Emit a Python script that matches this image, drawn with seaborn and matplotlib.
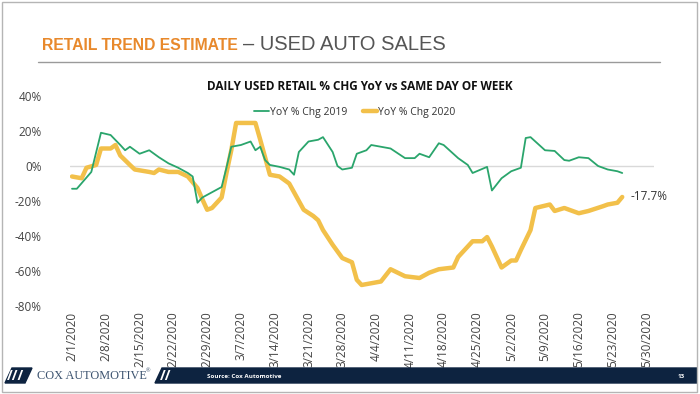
import pandas as pd
import seaborn as sns
import matplotlib.pyplot as plt
from matplotlib.patches import Rectangle, Polygon

# Data (days after 2/1/2020, % change)
days_2019 = [0, 1, 4, 6, 8, 10, 11, 12, 14, 16, 18, 20, 22, 24, 25, 26, 27, 29, 31,
             32, 33, 35, 37, 38, 39, 40, 41, 43, 45, 46, 47, 49, 51, 52, 54, 55, 56,
             58, 59, 61, 62, 66, 69, 71, 72, 74, 76, 77, 80, 82, 83, 86, 87, 89, 91,
             93, 94, 95, 98, 100, 102, 103, 105, 107, 109, 111, 113, 114]
chg_2019 = [-13, -13, -3.4, 19, 17.7, 12, 9, 11, 7, 9, 5, 1.5, -1, -4, -6, -21, -18, -15, -12,
            -1, 11, 12, 14, 9, 11, 3.4, 0.6, -0.5, -2, -5, 8, 14, 15, 16.5, 8, 0, -2,
            -1, 7, 9, 12, 10, 4.5, 4.5, 7, 5, 13, 12, 4.5, 0.6, -4, -0.5, -14, -7, -3,
            -1, 16, 16.5, 9, 8.6, 3.4, 3, 5, 4.5, 0, -2, -3, -4]

days_2020 = [0, 2, 3, 5, 6, 8, 9, 10, 12, 13, 16, 17, 18, 20, 22, 24, 26, 27, 28, 29,
             31, 32, 33, 34, 36, 38, 39, 40, 41, 43, 45, 46, 48, 50, 51, 52, 54, 56,
             58, 59, 60, 62, 64, 66, 69, 72, 74, 76, 79, 80, 83, 85, 86, 87, 89, 91,
             92, 93, 95, 96, 99, 100, 102, 105, 107, 110, 111, 113, 114]
chg_2020 = [-6, -7, -1, 0.6, 10, 10, 12, 6, 0.6, -2, -3.4, -4, -2, -3.4, -3.4, -6, -12.6, -19, -25, -24,
            -18, -4, 9, 24.6, 24.6, 24.6, 15, 5, -5, -6, -10, -15, -25, -28.6, -31, -36.6, -45, -52.6,
            -55, -65, -68, -67, -66, -59, -63, -64, -61, -59, -58, -52, -43, -43, -40.6, -46, -58, -54,
            -54, -48, -36.6, -24, -22, -25.7, -24, -27, -25.7, -23, -22, -21, -17.7]

start = pd.Timestamp("2020-02-01")
tick_dates = pd.date_range("2020-02-01", "2020-05-30", freq="7D")
tick_labels = [f"{d.month}/{d.day}/{d.year}" for d in tick_dates]
y_ticks = [40, 20, 0, -20, -40, -60, -80]

df19 = pd.DataFrame({"Date": start + pd.to_timedelta(days_2019, unit="D"), "Chg": chg_2019})
df20 = pd.DataFrame({"Date": start + pd.to_timedelta(days_2020, unit="D"), "Chg": chg_2020})

GREEN = "#2aa56c"
YELLOW = "#f2c04a"
ORANGE = "#e8892c"
NAVY = "#0d2340"

sns.set_theme(style="white")
plt.rcParams["font.family"] = ["Open Sans", "DejaVu Sans"]

fig = plt.figure(figsize=(7, 3.94), dpi=100)
ax = fig.add_axes([69.6 / 700, 1 - 306 / 394, 584 / 700, 210 / 394])

ax.axhline(0, color="#d9d9d9", lw=1, zorder=0)
sns.lineplot(data=df20, x="Date", y="Chg", color=YELLOW, lw=3.2, ax=ax,
             label="YoY % Chg 2020", zorder=2)
sns.lineplot(data=df19, x="Date", y="Chg", color=GREEN, lw=1.3, ax=ax,
             label="YoY % Chg 2019", zorder=3)

ax.set_xlim(start - pd.Timedelta(hours=12), start + pd.Timedelta(days=120.5))
ax.set_ylim(-80, 40)
ax.set_yticks(y_ticks)
ax.set_yticklabels([f"{v}%" for v in y_ticks], color="#444444", fontsize=8.5)
ax.set_xticks(tick_dates)
ax.set_xticklabels(tick_labels, rotation=90, color="#444444", fontsize=8.5)
ax.tick_params(axis="y", pad=20, length=0)
ax.tick_params(axis="x", pad=4, length=0)
ax.set_xlabel("")
ax.set_ylabel("")
for s in ax.spines.values():
    s.set_visible(False)

last = df20.iloc[-1]
ax.annotate(f"{last['Chg']}%", xy=(last["Date"], last["Chg"]), xytext=(6, 0),
            textcoords="offset points", va="center", ha="left", fontsize=8.5,
            color="#333333")

# Legend
h, l = ax.get_legend_handles_labels()
ax.legend().remove()
fig.legend([h[1], h[0]], [l[1], l[0]], loc="center", bbox_to_anchor=(355 / 700, 1 - 112 / 394),
           ncol=2, frameon=False, fontsize=7.5, handlelength=1.4, handletextpad=0.1,
           columnspacing=1.5, labelcolor="#333333")

# Slide header
fig.text(42 / 700, 1 - 45 / 394, "RETAIL TREND ESTIMATE", color=ORANGE, fontsize=11.3,
         fontweight="bold", va="center", family=["Liberation Sans", "DejaVu Sans"])
fig.text(243 / 700, 1 - 45 / 394, "– USED AUTO SALES", color="#555555", fontsize=14.5,
         va="center", family=["Liberation Sans", "DejaVu Sans"])
fig.add_artist(plt.Line2D([38 / 700, 660 / 700], [1 - 62 / 394] * 2, color="#9a9a9a", lw=1))
fig.text(360 / 700, 1 - 86 / 394, "DAILY USED RETAIL % CHG YoY vs SAME DAY OF WEEK",
         ha="center", va="center", fontsize=8.5, fontweight="bold", color="#111111")

# Footer
fig.add_artist(Polygon([(155 / 700, 1 - 383 / 394), (162 / 700, 1 - 368 / 394),
                        (697 / 700, 1 - 368 / 394), (697 / 700, 1 - 383 / 394)],
                       closed=True, color=NAVY, transform=fig.transFigure))
fig.add_artist(Polygon([(5 / 700, 1 - 383 / 394), (12 / 700, 1 - 368 / 394),
                        (32 / 700, 1 - 368 / 394), (25 / 700, 1 - 383 / 394)],
                       closed=True, color=NAVY, transform=fig.transFigure))
fig.text(16 / 700, 1 - 376 / 394, "///", color="white", fontsize=10, fontweight="bold",
         ha="center", va="center")
fig.text(37 / 700, 1 - 376 / 394, "COX AUTOMOTIVE", color="#3d5470", fontsize=8.8,
         va="center", family=["Liberation Serif", "DejaVu Serif"])
fig.text(146 / 700, 1 - 371 / 394, "®", color="#3d5470", fontsize=4, va="center")
fig.text(160 / 700, 1 - 376 / 394, "//", color="white", fontsize=10, fontweight="bold",
         ha="left", va="center")
fig.text(207 / 700, 1 - 376 / 394, "Source: Cox Automotive", color="white", fontsize=4.5,
         fontweight="bold", va="center")
fig.text(681 / 700, 1 - 376 / 394, "13", color="white", fontsize=4.5, fontweight="bold",
         va="center", ha="center")
fig.add_artist(Rectangle((2 / 700, 2 / 394), 695 / 700, 390 / 394, fill=False,
                         ec="#b5b5b5", lw=1, transform=fig.transFigure))

fig.savefig("out.png", dpi=100)
